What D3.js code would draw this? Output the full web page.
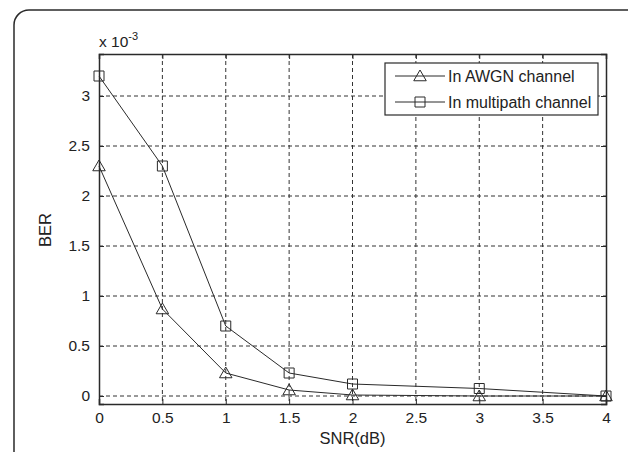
<!DOCTYPE html>
<html>
<head>
<meta charset="utf-8">
<script src="https://cdn.jsdelivr.net/npm/d3@7"></script>
<style>
  html, body { margin: 0; padding: 0; background: #fff; }
  svg { display: block; font-family: "Liberation Sans", Arial, Helvetica, sans-serif; }
</style>
</head>
<body>
<svg id="chart" width="628" height="452"></svg>
<script>
// SNR points (dB) and BER values (in units of 1e-3)
const snr = [0, 0.5, 1, 1.5, 2, 3, 4];
const berAwgn = [2.3, 0.87, 0.23, 0.06, 0.01, 0.0, 0.0];
const berMultipath = [3.2, 2.3, 0.7, 0.23, 0.12, 0.075, 0.0];
const xTicks = [0, 0.5, 1, 1.5, 2, 2.5, 3, 3.5, 4];
const yTicks = [0, 0.5, 1, 1.5, 2, 2.5, 3];
const seriesNames = ["In AWGN channel", "In multipath channel"];

const svg = d3.select("#chart");
const ink = "#2a2a2a";
const fontSize = 15.5;

// rounded frame around the figure
svg.append("rect")
  .attr("x", 14).attr("y", 10)
  .attr("width", 640).attr("height", 470)
  .attr("rx", 15).attr("ry", 15)
  .attr("fill", "none").attr("stroke", ink).attr("stroke-width", 1.5);

const plotL = 99, plotR = 606, plotT = 54, plotB = 404;
const x = d3.scaleLinear().domain([0, 4]).range([plotL, plotR]);
const y = d3.scaleLinear().domain([-0.08, 3.42]).range([plotB, plotT]);

// dashed grid
const grid = svg.append("g").attr("stroke", "#333").attr("stroke-width", 1)
  .attr("stroke-dasharray", "4,3");
xTicks.slice(1, -1).forEach(t => {
  grid.append("line").attr("x1", x(t)).attr("x2", x(t)).attr("y1", plotT).attr("y2", plotB);
});
yTicks.forEach(t => {
  grid.append("line").attr("x1", plotL).attr("x2", plotR).attr("y1", y(t)).attr("y2", y(t));
});

// axes with inward ticks
const fmt = d => String(d);
const xAxis = d3.axisBottom(x).tickValues(xTicks).tickSize(-5).tickPadding(8).tickFormat(fmt);
const xAxisTop = d3.axisTop(x).tickValues(xTicks).tickSize(-5).tickFormat("");
const yAxis = d3.axisLeft(y).tickValues(yTicks).tickSize(-5).tickPadding(9).tickFormat(fmt);
const yAxisRight = d3.axisRight(y).tickValues(yTicks).tickSize(-5).tickFormat("");

function style(g) {
  g.attr("font-size", fontSize).attr("font-family", "Liberation Sans, Arial, sans-serif");
  g.select(".domain").attr("stroke", ink).attr("stroke-width", 1.5);
  g.selectAll(".tick line").attr("stroke", ink).attr("stroke-width", 1);
  g.selectAll(".tick text").attr("fill", "#222");
}
svg.append("g").attr("transform", `translate(0,${plotB})`).call(xAxis).call(style);
svg.append("g").attr("transform", `translate(0,${plotT})`).call(xAxisTop).call(style);
svg.append("g").attr("transform", `translate(${plotL},0)`).call(yAxis).call(style);
svg.append("g").attr("transform", `translate(${plotR},0)`).call(yAxisRight).call(style);

// series
const line = d3.line().x((d, i) => x(snr[i])).y(d => y(d));
const triPath = (cx, cy, s) => `M${cx},${cy - s * 0.48}L${cx + s * 0.5},${cy + s * 0.38}L${cx - s * 0.5},${cy + s * 0.38}Z`;
const sqPath = (cx, cy, s) => `M${cx - s / 2},${cy - s / 2}h${s}v${s}h${-s}Z`;

function drawSeries(vals, marker, size) {
  svg.append("path").datum(vals).attr("d", line)
    .attr("fill", "none").attr("stroke", ink).attr("stroke-width", 1);
  svg.append("g").selectAll("path").data(vals).join("path")
    .attr("d", (d, i) => marker(x(snr[i]), y(d), size))
    .attr("fill", "none").attr("stroke", ink).attr("stroke-width", 1);
}
drawSeries(berAwgn, triPath, 12.5);
drawSeries(berMultipath, sqPath, 10);

// legend
const lg = svg.append("g");
lg.append("rect").attr("x", 385).attr("y", 63).attr("width", 213).attr("height", 52)
  .attr("fill", "#fff").attr("stroke", ink).attr("stroke-width", 1.2);
const markers = [[triPath, 12.5], [sqPath, 10]];
seriesNames.forEach((name, i) => {
  const cy = 76 + i * 26;
  lg.append("line").attr("x1", 395).attr("x2", 445).attr("y1", cy).attr("y2", cy)
    .attr("stroke", ink).attr("stroke-width", 1);
  lg.append("path").attr("d", markers[i][0](420, cy, markers[i][1]))
    .attr("fill", "none").attr("stroke", ink).attr("stroke-width", 1);
  lg.append("text").attr("x", 448).attr("y", cy + 5.5).attr("font-size", fontSize + 0.5)
    .attr("fill", "#222").text(name);
});

// exponent label
const ex = svg.append("text").attr("x", 99).attr("y", 47).attr("font-size", fontSize).attr("fill", "#222");
ex.append("tspan").text("x 10");
ex.append("tspan").attr("dy", -7).attr("font-size", 11).text("-3");

// axis titles
svg.append("text").attr("x", (plotL + plotR) / 2).attr("y", 444).attr("text-anchor", "middle")
  .attr("font-size", 16.5).attr("fill", "#222").text("SNR(dB)");
svg.append("text").attr("transform", "translate(51,230) rotate(-90)").attr("text-anchor", "middle")
  .attr("font-size", 16.5).attr("fill", "#222").text("BER");
</script>
</body>
</html>
